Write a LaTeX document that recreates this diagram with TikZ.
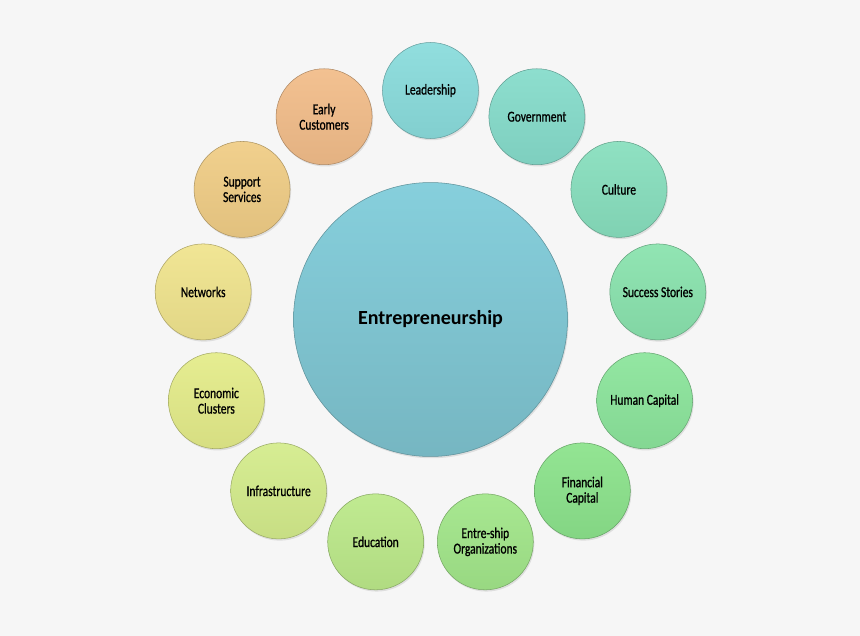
\documentclass[tikz,border=0pt]{standalone}
\usepackage{fontspec}
\setmainfont{Carlito}
\newfontfamily\labelfont[FakeStretch=0.76, FakeBold=0.9]{Carlito}
\usetikzlibrary{shadows}

\definecolor{bgcol}{HTML}{F6F6F6}
\definecolor{colcenter}{HTML}{86CFDC}
\definecolor{colleader}{HTML}{8ADCDC}
\definecolor{colgov}{HTML}{86DCCB}
\definecolor{colculture}{HTML}{88DFBE}
\definecolor{colsuccess}{HTML}{8AE3AE}
\definecolor{colhuman}{HTML}{8CE59C}
\definecolor{colfinance}{HTML}{8CE38C}
\definecolor{colentre}{HTML}{A2E68A}
\definecolor{coledu}{HTML}{BCE98A}
\definecolor{colinfra}{HTML}{D4EC8C}
\definecolor{colecon}{HTML}{E4EC8A}
\definecolor{colnet}{HTML}{F0E48E}
\definecolor{colsupport}{HTML}{F0CD86}
\definecolor{colearly}{HTML}{F2BD8A}

\tikzstyle{hub} = [
    circle,
    minimum size=5.48cm,
    top color=colcenter,
    bottom color=colcenter!88!black,
    draw=colcenter!70!black,
    line width=0.3pt,
    drop shadow={opacity=0.2, shadow xshift=0.6pt, shadow yshift=-1pt},
    font=\bfseries\fontsize{11.4}{13}\selectfont
]
\tikzset{
    factor/.style={
        circle,
        minimum size=1.92cm,
        inner sep=0pt,
        align=center,
        top color=#1!94!white,
        bottom color=#1!94!black,
        draw=#1!72!black,
        line width=0.3pt,
        drop shadow={opacity=0.2, shadow xshift=0.6pt, shadow yshift=-1pt},
        font=\labelfont\fontsize{8.6}{8.8}\selectfont
    }
}

\begin{document}
\begin{tikzpicture}[x=0.02cm, y=0.02cm]

\fill [bgcol] (-430.5,-316.5) rectangle (429.5,319.5);
\useasboundingbox (-430.5,-316.5) rectangle (429.5,319.5);

\node (hub) [hub] at (0,0) {Entrepreneurship};

\node (leader) [factor=colleader] at (90:229) {Leadership};
\node (gov) [factor=colgov] at (62.31:229) {Government};
\node (culture) [factor=colculture] at (34.62:229) {Culture};
\node (success) [factor=colsuccess] at (6.92:229) {Success Stories};
\node (human) [factor=colhuman] at (-20.77:229) {Human Capital};
\node (finance) [factor=colfinance] at (-48.46:229) {Financial\\Capital};
\node (entre) [factor=colentre] at (-76.15:229) {Entre-ship\\Organizations};
\node (edu) [factor=coledu] at (-103.85:229) {Education};
\node (infra) [factor=colinfra] at (-131.54:229) {Infrastructure};
\node (econ) [factor=colecon] at (-159.23:229) {Economic\\Clusters};
\node (net) [factor=colnet] at (173.08:229) {Networks};
\node (support) [factor=colsupport] at (145.38:229) {Support\\Services};
\node (early) [factor=colearly] at (117.69:229) {Early\\Customers};

\end{tikzpicture}
\end{document}
